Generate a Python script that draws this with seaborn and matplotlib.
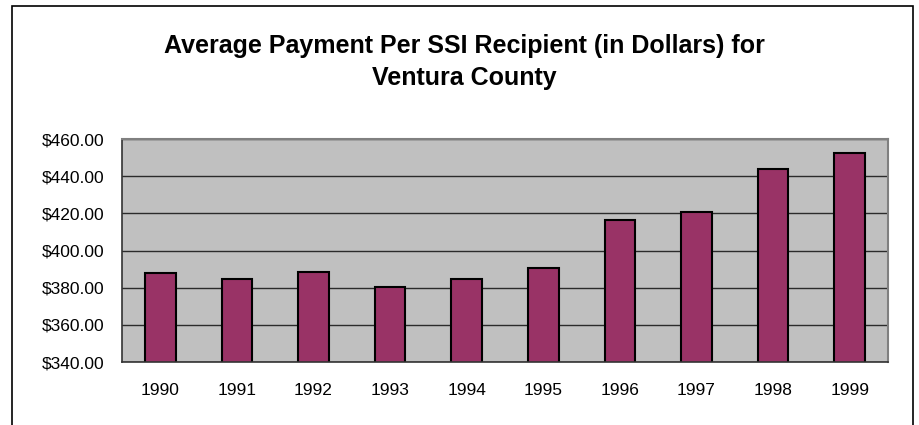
import matplotlib
matplotlib.use("Agg")
import matplotlib.pyplot as plt
import matplotlib.ticker as mticker
from matplotlib.patches import Rectangle
import seaborn as sns

# Average SSI payment per recipient, Ventura County
years = ["1990", "1991", "1992", "1993", "1994", "1995", "1996", "1997", "1998", "1999"]
payments = [387.7, 384.8, 388.4, 380.5, 384.8, 390.5, 416.6, 420.7, 444.1, 452.3]
y_ticks = [340, 360, 380, 400, 420, 440, 460]
title_lines = ["Average Payment Per SSI Recipient (in Dollars) for", "Ventura County"]

sns.set_style("white")
plt.rcParams["font.family"] = ["Liberation Sans", "DejaVu Sans"]
plt.rcParams["text.color"] = "black"
plt.rcParams["xtick.color"] = "black"
plt.rcParams["ytick.color"] = "black"

fig = plt.figure(figsize=(9.19, 4.25), dpi=100)
ax = fig.add_axes([122 / 919, 1 - 362 / 425, (888 - 122) / 919, (362 - 139) / 425])

sns.barplot(x=years, y=payments, color="#993366", saturation=1, width=0.4,
            edgecolor="black", linewidth=1.5, ax=ax)

ax.set_facecolor("#C0C0C0")
ax.set_ylim(y_ticks[0], y_ticks[-1])
ax.set_yticks(y_ticks)
ax.yaxis.set_major_formatter(mticker.StrMethodFormatter("${x:.2f}"))
ax.set_axisbelow(True)
ax.yaxis.grid(True, color="#2b2b2b", linewidth=1)
ax.set_xlabel("")
ax.set_ylabel("")

# year labels centred, tick marks between categories
ax.set_xlim(-0.5, len(years) - 0.5)
ax.set_xticks([i - 0.5 for i in range(len(years) + 1)], minor=True)
ax.tick_params(axis="x", which="major", length=0, pad=15, labelsize=12.5)
ax.tick_params(axis="x", which="minor", length=4.5, width=1, color="#333333", direction="out")
ax.tick_params(axis="y", length=4.5, width=1, color="#333333", direction="out", pad=8.5, labelsize=12.5)

for side in ["left", "bottom"]:
    ax.spines[side].set_color("#333333")
    ax.spines[side].set_linewidth(1.2)
for side in ["top", "right"]:
    ax.spines[side].set_color("#808080")
    ax.spines[side].set_linewidth(1.5)

# chart frame (open at the bottom)
frame = Rectangle((12 / 919, -0.2), (913 - 12) / 919, 1.2 - 6 / 425, transform=fig.transFigure,
                  fill=False, edgecolor="black", linewidth=1.2, clip_on=False)
fig.add_artist(frame)

fig.text(464 / 919, 1 - 53 / 425, title_lines[0], ha="center", va="baseline",
         fontsize=18, fontweight="bold")
fig.text(464 / 919, 1 - 85 / 425, title_lines[1], ha="center", va="baseline",
         fontsize=18, fontweight="bold")

fig.savefig("out.png", dpi=100)
